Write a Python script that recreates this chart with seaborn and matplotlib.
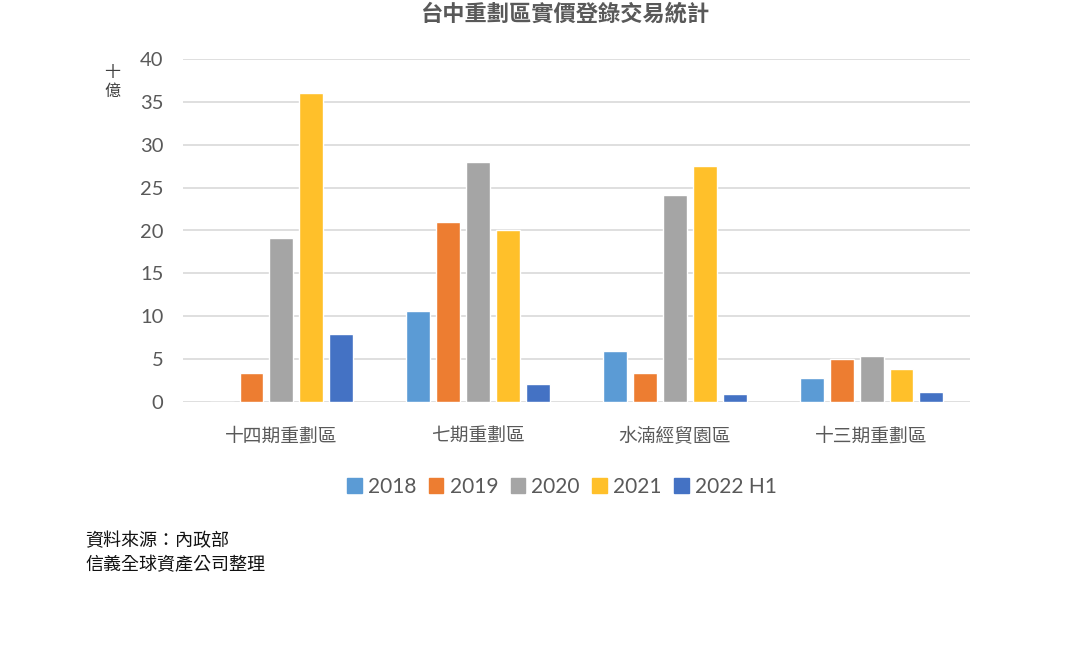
import matplotlib
matplotlib.use("Agg")
import matplotlib.pyplot as plt
import seaborn as sns
import pandas as pd

districts = ["十四期重劃區", "七期重劃區", "水湳經貿園區", "十三期重劃區"]
years = ["2018", "2019", "2020", "2021", "2022 H1"]
v2018 = [0.0, 10.6, 5.9, 2.8]
v2019 = [3.35, 20.95, 3.35, 5.05]
v2020 = [19.15, 27.95, 24.1, 5.35]
v2021 = [36.05, 20.1, 27.5, 3.8]
v2022h1 = [7.9, 2.15, 0.9, 1.15]
colors = ["#5B9BD5", "#ED7D31", "#A5A5A5", "#FFC02A", "#4472C4"]
title = "台中重劃區實價登錄交易統計"
unit_label = "十\n億"
source_lines = "資料來源：內政部\n信義全球資產公司整理"

series = [v2018, v2019, v2020, v2021, v2022h1]
rows = []
for y, vals in zip(years, series):
    for d, v in zip(districts, vals):
        rows.append({"district": d, "year": y, "value": v})
df = pd.DataFrame(rows)

sns.set_theme(style="white")
cjk = ["Noto Sans CJK TC", "DejaVu Sans"]
plt.rcParams["font.family"] = cjk

fig = plt.figure(figsize=(10.8, 6.52), dpi=100)
ax = fig.add_axes([183 / 1080, 1 - 402 / 652, (970 - 183) / 1080, (402 - 59) / 652])

sns.barplot(data=df, x="district", y="value", hue="year", order=districts,
            hue_order=years, palette=colors, width=0.76, gap=0.2,
            saturation=1, ax=ax, legend=False, errorbar=None)

ax.set_ylim(0, 40)
ax.set_xlim(-0.5, 3.5)
ax.set_yticks(range(0, 41, 5))
ax.yaxis.grid(True, color="#D9D9D9", linewidth=1.2)
ax.set_axisbelow(True)
for s in ax.spines.values():
    s.set_visible(False)
ax.set_xlabel("")
ax.set_ylabel("")
ax.tick_params(axis="both", length=0)
for lab in ax.get_yticklabels():
    lab.set_fontfamily(["Lato", "DejaVu Sans"])
    lab.set_fontsize(14.5)
    lab.set_color("#595959")
ax.tick_params(axis="y", pad=14)
for lab in ax.get_xticklabels():
    lab.set_fontsize(13.5)
    lab.set_color("#595959")
ax.tick_params(axis="x", pad=17)

fig.text(566 / 1080, 1 - 14 / 652, title, ha="center", va="center",
         fontsize=16, fontweight="bold", color="#595959")
fig.text(112 / 1080, 1 - 82 / 652, unit_label, ha="center", va="center",
         fontsize=11.5, color="#404040", linespacing=1.15)
fig.text(85 / 1080, 1 - 553 / 652, source_lines, ha="left", va="center",
         fontsize=13, color="#111111", linespacing=1.45)

handles = [plt.Rectangle((0, 0), 1, 1, color=c) for c in colors]
leg = fig.legend(handles, years, loc="center", bbox_to_anchor=(562 / 1080, 1 - 487 / 652),
                 ncol=5, frameon=False, handlelength=0.7, handleheight=0.7,
                 handletextpad=0.3, columnspacing=0.6,
                 prop={"family": ["Lato", "DejaVu Sans"], "size": 15})
for t in leg.get_texts():
    t.set_color("#595959")

fig.savefig("out.png", dpi=100, facecolor="white")
